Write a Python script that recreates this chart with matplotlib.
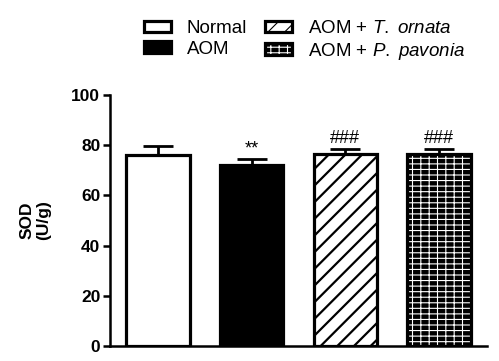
import numpy as np
import matplotlib.pyplot as plt
from matplotlib.patches import Patch
from matplotlib.legend_handler import HandlerTuple

plt.rcParams['font.family'] = ['Liberation Sans', 'DejaVu Sans']
plt.rcParams['mathtext.fontset'] = 'custom'
plt.rcParams['mathtext.rm'] = 'Liberation Sans'
plt.rcParams['mathtext.it'] = 'Liberation Sans:italic'

groups = ["Normal", "AOM", r"AOM + $\mathit{T.\ ornata}$", r"AOM + $\mathit{P.\ pavonia}$"]
sod = [76.0, 72.0, 76.5, 76.5]
sem = [3.7, 2.4, 2.0, 2.0]
marks = ["", "**", "###", "###"]

faces = ["white", "black", "white", "black"]
hatches = [None, None, "//", "---||"]
hatch_cols = ["black", "black", "black", "white"]
hatch_lw = [1.6, 1.6, 1.6, 0.8]

fig = plt.figure(figsize=(4.99, 3.61), dpi=100)
ax = fig.add_axes([0.2204, 0.0416, 0.7556, 0.6953])

x = np.arange(len(groups))
w = 0.68
handles = []
for i in range(len(groups)):
    plt.rcParams['hatch.linewidth'] = hatch_lw[i]
    ax.errorbar(x[i], sod[i], yerr=[[0], [sem[i]]], color="black", lw=2.0,
                capsize=10.5, capthick=2.0, zorder=1)
    ax.bar(x[i], sod[i], w, color=faces[i], edgecolor=hatch_cols[i],
           hatch=hatches[i], lw=0, zorder=2)
    ax.bar(x[i], sod[i], w, fill=False, edgecolor="black", lw=2.3, zorder=3)
    h1 = Patch(facecolor=faces[i], edgecolor=hatch_cols[i], hatch=hatches[i], lw=0)
    h2 = Patch(fill=False, edgecolor="black", lw=2.3)
    handles.append((h1, h2))
    if marks[i]:
        ax.text(x[i], sod[i] + sem[i] + 0.8, marks[i], ha="center", va="bottom",
                fontsize=13)

ax.set_xlim(-0.51, 3.51)
ax.set_ylim(0, 100)
ax.set_yticks([0, 20, 40, 60, 80, 100])
ax.set_xticks([])
for lab in ax.get_yticklabels():
    lab.set_fontweight("bold")
ax.tick_params(axis="y", labelsize=12.5, length=5, width=1.8, pad=2)
ax.spines["top"].set_visible(False)
ax.spines["right"].set_visible(False)
ax.spines["left"].set_linewidth(1.8)
ax.spines["bottom"].set_linewidth(1.8)
ax.set_ylabel("SOD\n(U/g)", fontsize=12.5, fontweight="bold")
ax.yaxis.set_label_coords(-0.155, 0.5)

fig.legend(handles, groups,
           handler_map={tuple: HandlerTuple(ndivide=1, pad=0)},
           ncol=2, loc="upper left", bbox_to_anchor=(0.288, 0.945),
           frameon=False, fontsize=13.5, handlelength=1.45, handleheight=0.55,
           handletextpad=0.85, columnspacing=0.95, labelspacing=0.2,
           borderaxespad=0, borderpad=0)

fig.savefig("out.png", dpi=100)
